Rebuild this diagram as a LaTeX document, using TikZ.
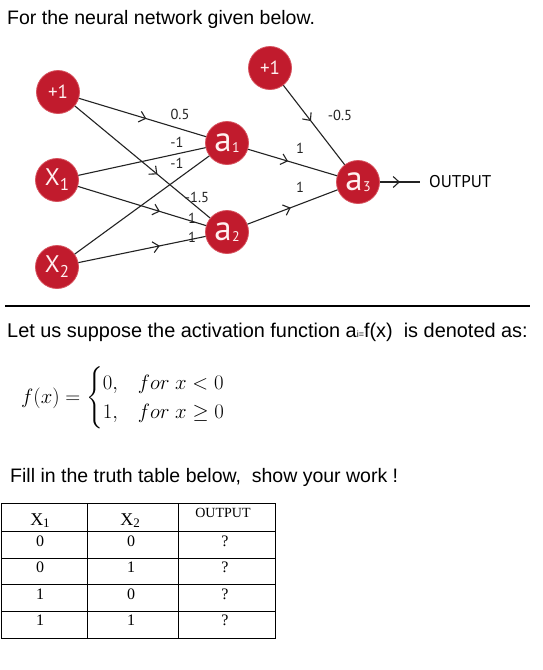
\documentclass[tikz,border=0pt]{standalone}
\usepackage{fontspec}
\usepackage{amsmath}
\setmainfont{Liberation Sans}
\newfontfamily\netfont{PT Sans}
\newfontfamily\tabfont{Liberation Serif}
\usetikzlibrary{arrows.meta,decorations.markings}
\definecolor{nodered}{RGB}{193,27,45}
\definecolor{noderim}{RGB}{214,80,92}
\definecolor{edgegray}{RGB}{35,35,35}
\definecolor{nodetext}{RGB}{255,240,240}
\tikzset{
  neuron/.style={circle, fill=nodered, draw=noderim, line width=0.8pt, minimum size=43pt, inner sep=0pt, text=nodetext, font=\netfont\fontsize{19}{19}\selectfont},
  conn/.style={draw=edgegray, line width=1.1pt},
  midarrow/.style={postaction={decorate}, decoration={markings, mark=at position #1 with {\arrow{Straight Barb[length=6pt,width=11pt,line width=1.1pt]}}}},
  wlabel/.style={font=\netfont\fontsize{14.5}{14.5}\selectfont, text=edgegray, inner sep=0pt},
  bodytext/.style={anchor=base west, inner sep=0pt, font=\fontsize{19.5}{22}\selectfont},
  cell/.style={inner sep=0pt, font=\tabfont\fontsize{16}{16}\selectfont},
  grid/.style={draw=black, line width=0.9pt},
}
\newcommand{\bigsub}[2]{{\fontsize{35}{35}\selectfont #1}\hspace{0.5pt}\raisebox{-1pt}{\fontsize{14}{14}\selectfont #2}}
\newcommand{\xsub}[2]{{\fontsize{24}{24}\selectfont #1}\raisebox{-5pt}{\fontsize{17}{17}\selectfont #2}}
\begin{document}
\begin{tikzpicture}[x=1pt,y=-1pt]
\useasboundingbox (0,0) rectangle (542,670);
\fill[white] (0,0) rectangle (542,670);

% title
\node[bodytext] (title) at (7,24) {For the neural network given below.};

% neurons
\node[neuron] (b1) at (58,92) {+1};
\node[neuron] (x1) at (57,180) {\xsub{X}{1}};
\node[neuron] (x2) at (57,267) {\xsub{X}{2}};
\node[neuron] (a1) at (227,143) {\bigsub{a}{1}};
\node[neuron] (a2) at (227,232) {\bigsub{a}{2}};
\node[neuron] (b2) at (270,68) {+1};
\node[neuron] (a3) at (358,182) {\bigsub{a}{3}};
\node[anchor=west, inner xsep=9pt, inner ysep=0pt, font=\netfont\fontsize{17}{17}\selectfont] (out) at (420,182) {OUTPUT};

% connections
\draw[conn, midarrow=0.53] (b1) -- (a1);
\draw[conn, midarrow=0.61] (b1) -- (a2);
\draw[conn] (x1) -- (a1);
\draw[conn, midarrow=0.64] (x1) -- (a2);
\draw[conn] (x2) -- (a1);
\draw[conn, midarrow=0.64] (x2) -- (a2);
\draw[conn, midarrow=0.45] (b2) -- (a3);
\draw[conn, midarrow=0.45] (a1) -- (a3);
\draw[conn, midarrow=0.48] (a2) -- (a3);
\draw[conn, midarrow=0.5] (a3) -- (out.west);

% weights
\node[wlabel] (w1) at (180,114) {0.5};
\node[wlabel] (w2) at (177,142) {-1};
\node[wlabel] (w3) at (177,163) {-1};
\node[wlabel] (w4) at (197,197) {-1.5};
\node[wlabel] (w5) at (192,218) {1};
\node[wlabel] (w6) at (192,237) {1};
\node[wlabel] (w7) at (340,115) {-0.5};
\node[wlabel] (w8) at (300,148) {1};
\node[wlabel] (w9) at (300,187) {1};

% rule
\draw[line width=2pt] (5,306) -- (530,306);

\node[bodytext, font=\fontsize{19.9}{22}\selectfont] (act) at (7,337) {Let us suppose the activation function a{\fontsize{9}{9}\selectfont i=}f(x)\ \ is denoted as:};

\node[anchor=west, inner sep=0pt, font=\fontsize{20}{24}\selectfont] (fx) at (21,398)
  {$f(x)=\begin{cases}0, & for\ x<0\\ 1, & for\ x\geq 0\end{cases}$};

\node[bodytext] (fill) at (10,482) {Fill in the truth table below,\ \ show your work !};

% table grid
\draw[grid] (1,503) rectangle (275,638);
\draw[grid] (87,503) -- (87,638);
\draw[grid] (178,503) -- (178,638);
\foreach \yy in {531,558,584,611} \draw[grid] (1,\yy) -- (275,\yy);

\node[cell] (h1) at (40,521) {\fontsize{18}{18}\selectfont X\raisebox{-2pt}{\fontsize{13}{13}\selectfont 1}};
\node[cell] (h2) at (130,521) {\fontsize{18}{18}\selectfont X\raisebox{-2pt}{\fontsize{13}{13}\selectfont 2}};
\node[cell] (h3) at (223,513) {\fontsize{14}{14}\selectfont OUTPUT};

\node[cell] (r1a) at (40,541) {0};
\node[cell] (r1b) at (131,541) {0};
\node[cell] (r1c) at (225,541) {?};
\node[cell] (r2a) at (40,567) {0};
\node[cell] (r2b) at (131,567) {1};
\node[cell] (r2c) at (225,567) {?};
\node[cell] (r3a) at (40,594) {1};
\node[cell] (r3b) at (131,594) {0};
\node[cell] (r3c) at (225,594) {?};
\node[cell] (r4a) at (40,620) {1};
\node[cell] (r4b) at (131,620) {1};
\node[cell] (r4c) at (225,620) {?};
\end{tikzpicture}
\end{document}
